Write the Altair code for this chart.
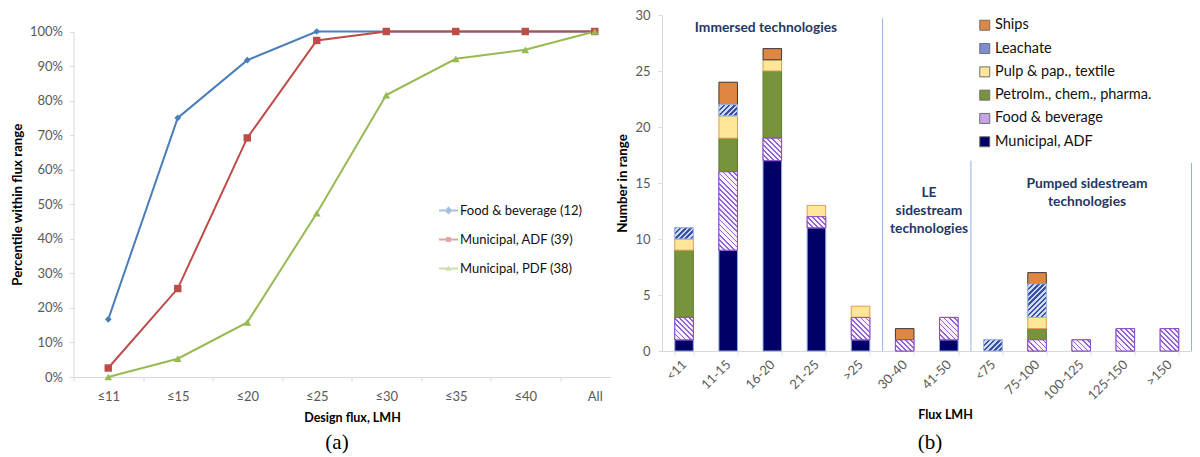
import json
import math
import altair as alt
import pandas as pd

# ---------------- data: panel (a) ----------------
flux_a = ["≤11", "≤15", "≤20", "≤25", "≤30", "≤35", "≤40", "All"]
series_a = ["Food & beverage (12)", "Municipal, ADF (39)", "Municipal, PDF (38)"]
food_a = [16.7, 75.0, 91.7, 100.0, 100.0, 100.0, 100.0, 100.0]
adf_a = [2.6, 25.6, 69.2, 97.4, 100.0, 100.0, 100.0, 100.0]
pdf_a = [0.0, 5.3, 15.8, 47.4, 81.6, 92.1, 94.7, 100.0]

# ---------------- data: panel (b) ----------------
flux_b = ["<11", "11-15", "16-20", "21-25", ">25", "30-40", "41-50",
          "<75", "75-100", "100-125", "125-150", ">150"]
cats_b = ["Municipal, ADF", "Food & beverage", "Petrolm., chem., pharma.",
          "Pulp & pap., textile", "Leachate", "Ships"]
municipal_b = [1, 9, 17, 11, 1, 0, 1, 0, 0, 0, 0, 0]
foodbev_b = [2, 7, 2, 1, 2, 1, 2, 0, 1, 1, 2, 2]
petrol_b = [6, 3, 6, 0, 0, 0, 0, 0, 1, 0, 0, 0]
pulp_b = [1, 2, 1, 1, 1, 0, 0, 0, 1, 0, 0, 0]
leachate_b = [1, 1, 0, 0, 0, 0, 0, 1, 3, 0, 0, 0]
ships_b = [0, 2, 1, 0, 0, 1, 0, 0, 1, 0, 0, 0]
# group separators: after which range, and how high the line reaches
sep_after = [">25", "41-50", ">150"]
sep_top = [29.7, 17.0, 16.8]
notes_b = ["Immersed technologies", "LE\nsidestream\ntechnologies",
           "Pumped sidestream\ntechnologies"]
panel_tags = ["(a)", "(b)"]

# ---------------- tables ----------------
rows = []
for s, vals in zip(series_a, [food_a, adf_a, pdf_a]):
    for i, v in enumerate(vals):
        rows.append({"series": s, "idx": i, "pct": v / 100.0})
df_a = pd.DataFrame(rows)

rows = []
for k, (c, vals) in enumerate(zip(cats_b, [municipal_b, foodbev_b, petrol_b,
                                           pulp_b, leachate_b, ships_b])):
    for r, v in zip(flux_b, vals):
        rows.append({"range": r, "cat": c, "stack": k, "value": v})
df_b = pd.DataFrame(rows)
df_sep = pd.DataFrame({"range": sep_after, "top": sep_top})

# ---------------- styles ----------------
FONT = "Lato"
cols_a = ["#4a7ebb", "#be4b48", "#98b954"]
shapes_a = ["diamond", "square", "triangle-up"]
sizes_a = [45, 55, 60]
# legend glyphs: a short line with the series marker in its middle
leg_line = "M-1,-0.1H1V0.1H-1Z"
leg_paths = [
    leg_line + "M0,-0.42L0.42,0L0,0.42L-0.42,0Z",
    leg_line + "M-0.26,-0.26H0.26V0.26H-0.26Z",
    leg_line + "M0,-0.32L0.32,0.24H-0.32Z",
]
fill_b = ["#000066", "#c6a4ea", "#77933c", "#ffe699", "#7d8fd4", "#dd8742"]
stroke_b = ["#8eaad8", "#8a4fc8", "#5a7a2c", "#e39a55", "#9bb7e0", "#3a3a3a"]
legend_order_b = cats_b[::-1]
NOTE_COLOR = "#1f3864"
SEP_COLOR = "#8db4e2"
# hatch styles: category -> (direction, stripe colour, background colour, duty)
hatch_b = {
    "Food & beverage": ("\\", "#9262d2", "#f7f1fc", 0.34),
    "Leachate": ("/", "#3a4fa6", "#cfdaf1", 0.45),
}

W, H = 1118, 362
A_X1 = 537
A_Y0, A_Y1 = 362, 16.5
B_X0, B_X1 = 588.5, 1118
B_Y0, B_Y1 = 336, 0
PAD_IN = 0.58
step_b = (B_X1 - B_X0) / len(flux_b)
bar_w = step_b * (1 - PAD_IN)
unit_px = (B_Y0 - B_Y1) / 30.0


def stripes(w, h, direction, fg, bg, duty, period=3.6):
    """Diagonal 45-degree stripes as a linear gradient over a w x h box."""
    k = (w + h) / (w * w + h * h)
    if direction == "/":
        x1, y1, x2, y2 = 0, 0, w * k, h * k
    else:
        x1, y1, x2, y2 = 0, 1, w * k, 1 - h * k
    n = (w + h) / math.sqrt(2) / period
    stops = []
    i = 0
    while i < n:
        a = i / n
        b = min((i + duty) / n, 1.0)
        c = min((i + 1) / n, 1.0)
        stops += [{"offset": a, "color": fg}, {"offset": b, "color": fg},
                  {"offset": b, "color": bg}, {"offset": c, "color": bg}]
        i += 1
    return {"gradient": "linear", "x1": x1, "y1": y1, "x2": x2, "y2": y2, "stops": stops}


# ---------------- panel (a) ----------------
xa = alt.Scale(domain=[-0.5, -0.5 + A_X1 / 69.5], range=[0, A_X1], nice=False, zero=False)
ya = alt.Scale(domain=[0, 1], range=[A_Y0, A_Y1], nice=False, zero=False)
tick_vals = [i / 2 for i in range(-1, 15)]
ax_a = alt.Axis(
    orient="bottom", values=tick_vals,
    labelExpr="datum.value % 1 === 0 ? " + json.dumps(flux_a) + "[datum.value] : ''",
    tickOpacity={"condition": {"test": "datum.value % 1 === 0", "value": 0}, "value": 1},
    labelFlush=False, labelOverlap=False, tickSize=4, labelPadding=9,
    title="Design flux, LMH", titleX=278.5, titlePadding=8, titleFontSize=12.5,
)
ay_a = alt.Axis(orient="left", values=[i / 10 for i in range(11)], format=".0%",
                tickSize=4, labelPadding=7, title="Percentile within flux range",
                titlePadding=5, titleFontSize=13.3)

leg_a = alt.Legend(orient="none", legendX=365.5, legendY=186, title=None,
                   direction="vertical", symbolSize=361, symbolStrokeWidth=0,
                   labelFontSize=13, labelOffset=2, rowPadding=12, padding=0,
                   labelColor="#111")

base_a = alt.Chart(df_a)
enc_a = dict(x=alt.X("idx:Q", scale=xa, axis=ax_a), y=alt.Y("pct:Q", scale=ya, axis=ay_a))
line_a = base_a.mark_line(strokeWidth=2).encode(
    stroke=alt.Stroke("series:N", scale=alt.Scale(domain=series_a, range=cols_a), legend=None),
    **enc_a,
)
pts_a = [
    base_a.transform_filter(alt.datum.series == s).mark_point(
        filled=True, opacity=1, shape=shp, size=sz, fill=col, strokeWidth=0
    ).encode(**enc_a)
    for s, shp, sz, col in zip(series_a, shapes_a, sizes_a, cols_a)
]
legend_a = base_a.transform_filter("false").mark_point(filled=True).encode(
    fill=alt.Fill("series:N", scale=alt.Scale(domain=series_a, range=cols_a), legend=leg_a),
    shape=alt.Shape("series:N", scale=alt.Scale(domain=series_a, range=leg_paths), legend=leg_a),
    **enc_a,
)
panel_a = alt.layer(line_a, *pts_a, legend_a)

# ---------------- panel (b) ----------------
xb = alt.Scale(domain=flux_b, range=[B_X0, B_X1], paddingInner=PAD_IN, paddingOuter=PAD_IN / 2)
yb = alt.Scale(domain=[0, 30], range=[B_Y0, B_Y1], nice=False, zero=True)
ax_b = alt.Axis(orient="bottom", offset=B_Y0 - H, tickBand="extent", labelAngle=-45,
                labelAlign="right", labelBaseline="middle", tickSize=4, labelPadding=7,
                title="Flux LMH", titleX=871.5, titlePadding=6, labelOverlap=False,
                titleFontSize=12.5)
ay_b = alt.Axis(orient="left", offset=-B_X0, values=list(range(0, 31, 5)), tickSize=4,
                labelPadding=8, title="Number in range", titlePadding=5, titleFontSize=13.3)

leg_b = alt.Legend(orient="none", legendX=904, legendY=3, title=None, direction="vertical",
                   symbolType="square", symbolSize=100, labelFontSize=14.5, labelOffset=3,
                   labelLimit=400, rowPadding=7.3, padding=0, labelColor="#111",
                   symbolStrokeWidth=1, symbolStrokeColor="#6f6f6f")

stacked_b = alt.Chart(df_b).transform_filter("datum.value > 0").transform_stack(
    stack="value", as_=["v0", "v1"], groupby=["range"],
    sort=[alt.SortField("stack", order="ascending")],
)
enc_xy = dict(
    x=alt.X("range:N", scale=xb, sort=flux_b, axis=ax_b),
    y=alt.Y("v0:Q", scale=yb, axis=ay_b),
    y2=alt.Y2("v1:Q"),
)
bars_b = stacked_b.mark_bar(strokeWidth=1).encode(
    color=alt.Color("cat:N", scale=alt.Scale(domain=legend_order_b,
                                             range=[fill_b[cats_b.index(c)] for c in legend_order_b]),
                    legend=leg_b),
    stroke=alt.Stroke("cat:N", scale=alt.Scale(domain=cats_b, range=stroke_b), legend=None),
    **enc_xy,
)
hatch_layers = []
vals_by_cat = {"Food & beverage": foodbev_b, "Leachate": leachate_b}
for cat, (direction, fg, bg, duty) in hatch_b.items():
    for units in sorted(set(v for v in vals_by_cat[cat] if v > 0)):
        grad = stripes(bar_w, units * unit_px, direction, fg, bg, duty)
        hatch_layers.append(
            stacked_b.transform_filter(
                f"datum.cat === '{cat}' && datum.value === {units}"
            ).mark_bar(fill=grad, stroke=stroke_b[cats_b.index(cat)], strokeWidth=1).encode(**enc_xy)
        )

seps_b = alt.Chart(df_sep).mark_rule(color=SEP_COLOR, strokeWidth=1,
                                     xOffset=PAD_IN * step_b / 2).encode(
    x=alt.X("range:N", scale=xb, sort=flux_b, axis=ax_b, bandPosition=1),
    y=alt.Y("top:Q", scale=yb, axis=ay_b),
    y2=alt.datum(0),
)
panel_b = alt.layer(bars_b, *hatch_layers, seps_b)


def note(text, x, y, **kw):
    return alt.Chart(pd.DataFrame({"t": [text]})).mark_text(**kw).encode(
        text="t:N", x=alt.value(x), y=alt.value(y))


note_kw = dict(font=FONT, fontSize=13.8, fontWeight="bold", color=NOTE_COLOR,
               align="center", baseline="middle", lineBreak="\n", lineHeight=18)
notes = [
    note(notes_b[0], 692.5, 13, **note_kw),
    note(notes_b[1], 855.5, 178, **note_kw),
    note(notes_b[2], 1013.5, 169, **note_kw),
    note(panel_tags[0], 263.5, 428, font="Liberation Serif", fontSize=21, color="#000",
         align="center", baseline="middle"),
    note(panel_tags[1], 856.5, 428, font="Liberation Serif", fontSize=21, color="#000",
         align="center", baseline="middle"),
]

chart = alt.layer(panel_a, panel_b, *notes).resolve_scale(
    x="independent", y="independent", stroke="independent"
).resolve_axis(x="independent", y="independent").properties(
    width=W, height=H,
    autosize=alt.AutoSizeParams(type="none"),
    padding={"left": 65.5, "top": 7, "right": 0, "bottom": 79},
).configure_view(stroke=None).configure_axis(
    grid=False, domainColor="#d9d9d9", tickColor="#d9d9d9", labelColor="#595959",
    labelFont=FONT, labelFontSize=13, titleFont=FONT, titleFontSize=12.5,
    titleFontWeight="bold", titleColor="#000",
).configure_legend(labelFont=FONT)

chart.save("out.html", embed_options={"renderer": "svg", "actions": False})
